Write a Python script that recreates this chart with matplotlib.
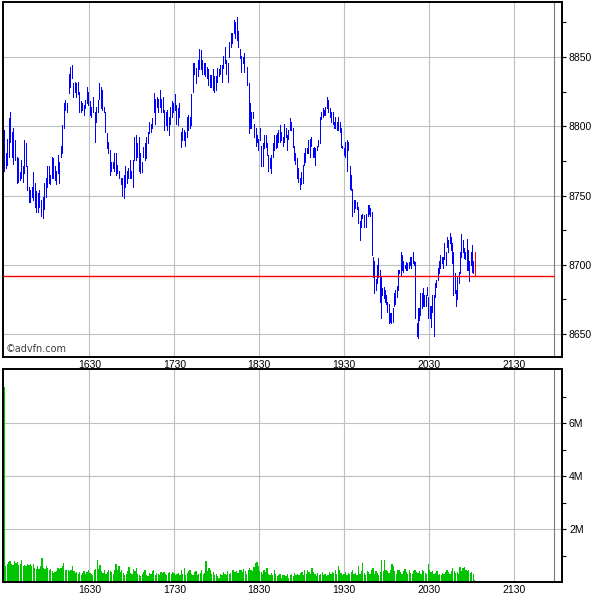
import numpy as np
import matplotlib
matplotlib.use('Agg')
import matplotlib.pyplot as plt
from matplotlib.ticker import MultipleLocator, FixedLocator, FuncFormatter

# times are minutes since midnight
prev_close = 8692
session_end = 1318

block_start = [930.0, 1015.3, 1101.4, 1185.6]
block_end = [1014.2, 1099.4, 1183.8, 1262.0]
block_size = [79, 80, 83, 83]

highs = [
    8797, 8781, 8791, 8806, 8810, 8796, 8799, 8790, 8778, 8777,
    8767, 8776, 8771, 8790, 8788, 8771, 8756, 8754, 8756, 8767,
    8759, 8753, 8752, 8754, 8747, 8749, 8759, 8763, 8771, 8771,
    8765, 8778, 8777, 8771, 8768, 8779, 8774, 8786, 8801, 8817,
    8819, 8817, 8838, 8843, 8844, 8831, 8832, 8831, 8832, 8825,
    8818, 8817, 8815, 8819, 8828, 8825, 8818, 8814, 8821, 8810,
    8814, 8819, 8831, 8828, 8826, 8814, 8810, 8795, 8789, 8783,
    8774, 8774, 8781, 8781, 8772, 8768, 8763, 8763, 8765,
    8771, 8768, 8770, 8776, 8768, 8776, 8792, 8794, 8788, 8792,
    8781, 8774, 8785, 8788, 8792, 8796, 8803, 8802, 8806, 8824,
    8820, 8821, 8820, 8826, 8820, 8821, 8812, 8810, 8812, 8807,
    8814, 8818, 8817, 8823, 8815, 8813, 8817, 8796, 8799, 8797,
    8796, 8807, 8808, 8807, 8823, 8846, 8846, 8842, 8848, 8856,
    8855, 8848, 8846, 8846, 8843, 8841, 8837, 8837, 8841, 8836,
    8836, 8842, 8841, 8844, 8844, 8851, 8857, 8848, 8846, 8861,
    8867, 8867, 8877, 8875, 8879, 8869, 8856, 8851, 8850, 8853,
    8843, 8831, 8817, 8810, 8810, 8802, 8799, 8794, 8791, 8799,
    8786, 8788, 8794, 8794, 8788, 8779, 8777, 8779, 8788, 8794,
    8794, 8795, 8797, 8801, 8796, 8792, 8802, 8799, 8794, 8797,
    8806, 8803, 8799, 8786, 8781, 8777, 8770, 8763, 8767, 8772,
    8781, 8784, 8784, 8790, 8791, 8792, 8784, 8785, 8784, 8786,
    8790, 8807, 8810, 8813, 8812, 8814, 8821, 8819, 8813, 8810,
    8810, 8803, 8807, 8803, 8807, 8803, 8799, 8786, 8784, 8789,
    8790, 8789, 8771, 8765, 8755, 8747, 8747, 8745, 8742, 8732,
    8736, 8737, 8736,
    8737, 8743, 8743, 8741, 8738, 8706, 8703, 8690, 8700, 8705,
    8696, 8691, 8683, 8684, 8682, 8678, 8673, 8672, 8665, 8665,
    8669, 8680, 8682, 8685, 8696, 8696, 8709, 8707, 8703, 8700,
    8702, 8701, 8702, 8706, 8706, 8709, 8703, 8702, 8658, 8669,
    8669, 8680, 8680, 8683, 8678, 8678, 8684, 8677, 8670, 8670,
    8678, 8678, 8687, 8689, 8698, 8703, 8707, 8706, 8706, 8716,
    8709, 8720, 8718, 8723, 8720, 8716, 8709, 8694, 8682, 8691,
    8695, 8709, 8722, 8718, 8712, 8709, 8719, 8711, 8703, 8709,
    8714, 8703, 8709,
]

lows = [
    8768, 8770, 8772, 8778, 8789, 8778, 8773, 8776, 8759, 8760,
    8761, 8763, 8760, 8766, 8771, 8754, 8745, 8745, 8749, 8747,
    8742, 8738, 8738, 8742, 8735, 8734, 8740, 8749, 8756, 8759,
    8758, 8763, 8763, 8761, 8758, 8766, 8759, 8778, 8781, 8799,
    8812, 8810, 8824, 8828, 8835, 8821, 8825, 8821, 8823, 8810,
    8810, 8812, 8808, 8813, 8817, 8815, 8808, 8807, 8810, 8789,
    8803, 8810, 8820, 8813, 8812, 8810, 8796, 8784, 8781, 8765,
    8768, 8770, 8768, 8765, 8766, 8763, 8758, 8750, 8748,
    8756, 8759, 8763, 8763, 8763, 8756, 8776, 8776, 8778, 8768,
    8766, 8767, 8778, 8776, 8777, 8788, 8795, 8796, 8799, 8810,
    8802, 8814, 8810, 8814, 8810, 8810, 8797, 8801, 8797, 8794,
    8802, 8807, 8810, 8812, 8802, 8801, 8807, 8785, 8790, 8790,
    8786, 8792, 8797, 8799, 8801, 8825, 8838, 8831, 8836, 8841,
    8841, 8838, 8838, 8836, 8835, 8830, 8828, 8828, 8826, 8825,
    8826, 8832, 8836, 8838, 8832, 8842, 8846, 8838, 8832, 8850,
    8857, 8860, 8867, 8864, 8862, 8857, 8849, 8839, 8846, 8839,
    8830, 8795, 8799, 8799, 8806, 8792, 8786, 8789, 8783, 8790,
    8771, 8771, 8784, 8785, 8779, 8768, 8770, 8766, 8778, 8783,
    8784, 8785, 8789, 8789, 8790, 8786, 8789, 8792, 8783, 8791,
    8797, 8797, 8785, 8776, 8773, 8763, 8760, 8755, 8758, 8759,
    8772, 8774, 8781, 8781, 8778, 8786, 8778, 8778, 8772, 8783,
    8786, 8788, 8805, 8807, 8808, 8808, 8813, 8810, 8807, 8803,
    8802, 8799, 8799, 8797, 8797, 8796, 8785, 8784, 8779, 8778,
    8768, 8783, 8755, 8754, 8735, 8738, 8741, 8740, 8730, 8718,
    8727, 8734, 8727,
    8727, 8735, 8737, 8735, 8707, 8691, 8680, 8682, 8687, 8691,
    8673, 8662, 8678, 8676, 8673, 8672, 8666, 8658, 8659, 8658,
    8659, 8670, 8672, 8677, 8682, 8694, 8693, 8696, 8695, 8698,
    8696, 8696, 8698, 8700, 8698, 8701, 8700, 8662, 8649, 8647,
    8660, 8664, 8669, 8670, 8670, 8670, 8678, 8662, 8662, 8655,
    8666, 8649, 8677, 8684, 8689, 8694, 8698, 8701, 8698, 8704,
    8700, 8713, 8709, 8716, 8711, 8701, 8678, 8680, 8670, 8675,
    8687, 8694, 8706, 8709, 8705, 8704, 8696, 8696, 8688, 8700,
    8695, 8694, 8693,
]

# volume per bar, millions
volume = [
    7.36, 0.59, 0.69, 0.74, 0.78, 0.69, 0.65, 0.78, 0.72, 0.74, 0.65, 0.69, 0.84, 0.62, 0.65,
    0.59, 0.69, 0.65, 0.69, 0.62, 0.69, 0.53, 0.49, 0.62, 0.49, 0.59, 0.91, 0.53, 0.49, 0.59,
    0.53, 0.47, 0.49, 0.40, 0.34, 0.36, 0.40, 0.53, 0.49, 0.53, 0.59, 0.72, 0.47, 0.44, 0.47,
    0.40, 0.44, 0.59, 0.40, 0.34, 0.36, 0.30, 0.38, 0.27, 0.34, 0.40, 0.30, 0.36, 0.44, 0.33, 0.30,
    0.27, 0.44, 0.49, 0.84, 0.49, 0.65, 0.40, 0.34, 0.44, 0.30, 0.36, 0.47, 0.40, 0.36, 0.30,
    0.47, 0.69, 0.44, 0.59, 0.38, 0.44, 0.34, 0.27, 0.30, 0.40, 0.57, 0.34, 0.30, 0.49, 0.40,
    0.53, 0.30, 0.27, 0.21, 0.30, 0.36, 0.44, 0.27, 0.21, 0.34, 0.30, 0.40, 0.47, 0.25, 0.34,
    0.30, 0.27, 0.36, 0.34, 0.38, 0.30, 0.25, 0.34, 0.36, 0.30, 0.38, 0.34, 0.27, 0.30,
    0.34, 0.25, 0.44, 0.30, 0.53, 0.27, 0.34, 0.40, 0.47, 0.30, 0.27, 0.36, 0.40, 0.27, 0.30,
    0.34, 0.44, 0.30, 0.34, 0.78, 0.40, 0.53, 0.44, 0.30, 0.38, 0.25, 0.30, 0.21, 0.17, 0.30,
    0.25, 0.36, 0.30, 0.27, 0.40, 0.30, 0.34, 0.44, 0.47, 0.36, 0.40, 0.34, 0.47, 0.44, 0.36,
    0.49, 0.40, 0.30, 0.44, 0.53, 0.47, 0.40, 0.57, 0.72, 0.74, 0.62, 0.40, 0.36, 0.30, 0.44,
    0.36, 0.53, 0.30, 0.27, 0.34, 0.25, 0.47, 0.30, 0.21, 0.27, 0.30, 0.17, 0.25, 0.27, 0.21,
    0.30, 0.17, 0.27, 0.30, 0.21, 0.34, 0.27, 0.30, 0.25, 0.34, 0.36, 0.27, 0.44, 0.30, 0.47,
    0.36, 0.30, 0.53, 0.38, 0.30, 0.21, 0.34, 0.27, 0.30, 0.38, 0.25, 0.30, 0.21, 0.27, 0.36,
    0.30, 0.38, 0.34, 0.47, 0.30, 0.59, 0.44, 0.34, 0.27, 0.30, 0.36, 0.25, 0.34, 0.30, 0.36,
    0.44, 0.30, 0.34, 0.25, 0.62, 0.30, 0.40, 0.72, 0.34, 0.27, 0.40, 0.36, 0.30, 0.44, 0.53,
    0.30, 0.40, 0.34, 0.27, 0.36, 0.84, 0.40, 0.84, 0.47, 0.40, 0.34, 0.44, 0.69, 0.59, 0.40,
    0.30, 0.47, 0.44, 0.36, 0.30, 0.40, 0.49, 0.36, 0.30, 0.44, 0.34, 0.30, 0.40, 0.47, 0.36,
    0.34, 0.40, 0.30, 0.47, 0.40, 0.34, 0.30, 0.69, 0.44, 0.36, 0.40, 0.30, 0.34, 0.40, 0.27,
    0.30, 0.25, 0.34, 0.30, 0.38, 0.47, 0.36, 0.30, 0.40, 0.53, 0.40, 0.34, 0.38, 0.30, 0.57,
    0.40, 0.53, 0.57, 0.47, 0.40, 0.44, 0.34, 0.38, 0.30, 0.06,
]

time_ticks = [990, 1050, 1110, 1170, 1230, 1290]
price_ticks = [8650, 8700, 8750, 8800, 8850]
vol_ticks = [2, 4, 6]

bar_times = np.concatenate([np.linspace(a, b, n)
                            for a, b, n in zip(block_start, block_end, block_size)])
vol_times = np.linspace(block_start[0], block_end[-1], len(volume))

plt.rcParams['font.family'] = ['Liberation Sans', 'DejaVu Sans']

fig = plt.figure(figsize=(6, 6), dpi=100)
ax1 = fig.add_axes([0.005, 0.405, 0.9317, 0.5917])
ax2 = fig.add_axes([0.005, 0.03, 0.9317, 0.355])

xlim = (929.1, 1323.7)
grid_col = '#b9c1c1'

def hhmm(v, pos):
    v = int(round(v))
    return '%d%02d' % (v // 60, v % 60)

for ax in (ax1, ax2):
    ax.set_xlim(*xlim)
    ax.xaxis.set_major_locator(FixedLocator(time_ticks))
    ax.xaxis.set_major_formatter(FuncFormatter(hhmm))
    ax.yaxis.tick_right()
    ax.set_axisbelow(True)
    ax.grid(True, color=grid_col, linestyle='-', linewidth=0.8)
    ax.axvline(session_end, color='#7a7a7a', linestyle='-', linewidth=0.8)
    for s in ax.spines.values():
        s.set_linewidth(1.4)
        s.set_color('black')
    ax.tick_params(axis='x', length=0, labelsize=7.5, pad=2)
    ax.tick_params(axis='y', which='both', direction='out', length=3,
                   width=0.8, labelsize=7.5, pad=2)

# price panel
ax1.set_ylim(8633.5, 8889.7)
ax1.yaxis.set_major_locator(FixedLocator(price_ticks))
ax1.yaxis.set_minor_locator(MultipleLocator(25))
colors = ['#0000ff'] * (len(highs) - 1) + ['#ff0000']
ax1.vlines(bar_times, lows, highs, colors=colors, linewidth=0.5, antialiased=False)
ax1.hlines(prev_close, xlim[0], session_end, color='#ff0000', linewidth=1.0, zorder=3)
ax1.text(0.004, 0.014, '\u00a9advfn.com', transform=ax1.transAxes,
         fontsize=7, color='#404040', family=['DejaVu Sans'])

# volume panel
ax2.set_ylim(0, 8.05)
ax2.yaxis.set_major_locator(FixedLocator(vol_ticks))
ax2.yaxis.set_minor_locator(FixedLocator([1, 3, 5, 7]))
ax2.yaxis.set_major_formatter(FuncFormatter(lambda v, p: '%dM' % v))
ax2.bar(vol_times, volume, width=0.9, color='#00c400', linewidth=0)

fig.savefig('out.png', dpi=100)
